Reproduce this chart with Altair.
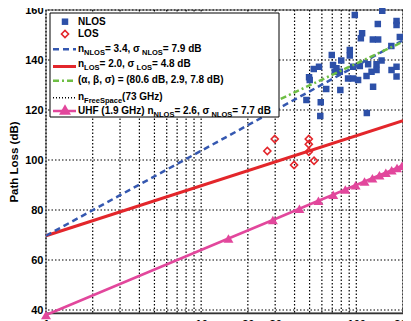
import altair as alt
import pandas as pd

# ---------------- data ----------------
nlos_d = [97.8, 147, 137.6, 181.7, 181.7, 109, 107, 127.8, 138.3, 190.8, 168.2,
          69.5, 90.8, 90.8, 80, 145.5, 135, 119.2, 105.4, 181.7, 168.7, 70.8,
          74.5, 72.6, 78.3, 95.3, 125.4, 116.4, 181.7, 88.5, 95.3, 102.7, 53.2,
          57.5, 49.6, 50.1, 64, 78.9, 128.3, 47.7, 59, 58.6, 116.9, 135]
nlos_pl = [158, 159.7, 154.4, 155.6, 154, 150.7, 148.7, 148.2, 148.2, 149.2, 145.6,
           142, 144, 141.8, 139.8, 139.8, 138.3, 138.3, 137.6, 137.3, 136, 138,
           136.7, 135.3, 135.3, 137.3, 135.3, 133.6, 133.4, 132.6, 132.6, 132, 136.4,
           137.3, 133.1, 132, 128.4, 128, 129.3, 124, 123.1, 117.6, 118.8, 136]

los_d = [26.7, 29.8, 39.7, 49.4, 49.4, 49.4, 53.4]
los_pl = [103.6, 108.4, 98, 108.4, 106.3, 103.3, 99.7]

fit_d = [1, 200]
nlos_fit = [69.7, 147.9]
los_fit = [69.7, 115.7]
fs_fit = [69.7, 115.7]

ci_d = [27, 200]
ci_pl = [122.1, 147.3]

uhf_d = [1, 15, 29, 43, 57, 71, 85, 99, 113, 127, 141, 155, 169, 183, 197]
uhf_pl = [38.0, 68.6, 76.0, 80.5, 83.7, 86.1, 88.2, 89.9, 91.4, 92.7, 93.9, 94.9,
          95.9, 96.8, 97.7]

x_grid = [1, 2, 3, 4, 5, 6, 7, 8, 9, 10, 20, 30, 40, 50, 60, 70, 80, 90, 100, 200]
x_labels = [1, 10, 20, 30, 100, 200]
y_ticks = [40, 60, 80, 100, 120, 140, 160]

# ---------------- styling ----------------
FONT = "Liberation Sans"
C_BLUE = "#2D50A8"
C_BLUE_L = "#3558B0"
C_RED = "#E3262B"
C_GREEN = "#6EBE44"
C_PINK = "#E2479C"

W_PX = 357
H_PX = 303

xscale = alt.Scale(type="log", domain=[1, 200], nice=False, zero=False)
yscale = alt.Scale(domain=[38.8, 160], nice=False, zero=False)

lab_list = "[" + ",".join(str(v) for v in x_labels) + "]"
xaxis = alt.Axis(values=x_grid, grid=False, ticks=False, title=None,
                 labelExpr=f"indexof({lab_list}, datum.value) >= 0 ? toString(datum.value) : ''",
                 labelOverlap=False, labelFlush=False, labelPadding=5,
                 domainColor="#333", domainWidth=1.5)
yaxis = alt.Axis(values=y_ticks, grid=False, ticks=False, title="Path Loss (dB)",
                 labelFlush=False, labelOverlap=False, labelPadding=3, domain=False,
                 titlePadding=5)


def X(f="d"):
    return alt.X(f"{f}:Q", scale=xscale, axis=xaxis)


def Y(f="pl"):
    return alt.Y(f"{f}:Q", scale=yscale, axis=yaxis)


df_nlos = pd.DataFrame({"d": nlos_d, "pl": nlos_pl})
df_los = pd.DataFrame({"d": los_d, "pl": los_pl})
df_nfit = pd.DataFrame({"d": fit_d, "pl": nlos_fit})
df_lfit = pd.DataFrame({"d": fit_d, "pl": los_fit})
df_fs = pd.DataFrame({"d": fit_d, "pl": fs_fit})
df_ci = pd.DataFrame({"d": ci_d, "pl": ci_pl})
df_uhf = pd.DataFrame({"d": uhf_d, "pl": uhf_pl})

# dotted grid drawn through the scales
grid_x = alt.Chart(pd.DataFrame({"d": x_grid})).mark_rule(
    color="#000", strokeDash=[1.5, 2], strokeWidth=1.2, opacity=1).encode(x=X())
grid_y = alt.Chart(pd.DataFrame({"pl": y_ticks})).mark_rule(
    color="#000", strokeDash=[1.5, 2], strokeWidth=1.2, opacity=1).encode(y=Y())

nlos_pts = alt.Chart(df_nlos).mark_point(shape="square", filled=True, size=42,
                                         color=C_BLUE, opacity=1).encode(x=X(), y=Y())
los_pts = alt.Chart(df_los).mark_point(shape="diamond", filled=False, size=50,
                                       color=C_RED, strokeWidth=1.6, opacity=1).encode(x=X(), y=Y())
fs_line = alt.Chart(df_fs).mark_line(color="black", strokeDash=[1, 2], strokeWidth=1.5).encode(x=X(), y=Y())
los_line = alt.Chart(df_lfit).mark_line(color=C_RED, strokeWidth=3).encode(x=X(), y=Y())
nlos_line = alt.Chart(df_nfit).mark_line(color=C_BLUE_L, strokeDash=[6, 4], strokeWidth=2.5).encode(x=X(), y=Y())
ci_line = alt.Chart(df_ci).mark_line(color=C_GREEN, strokeDash=[6, 3, 2, 3], strokeWidth=2.5).encode(x=X(), y=Y())
uhf_line = alt.Chart(df_uhf).mark_line(color=C_PINK, strokeWidth=2.5).encode(x=X(), y=Y())
uhf_pts = alt.Chart(df_uhf).mark_point(shape="triangle-up", filled=True, size=100,
                                       color=C_PINK, opacity=1).encode(x=X(), y=Y())

# ---------------- custom legend (with subscripts) ----------------
WID = {' ': 278, '(': 333, ')': 333, ',': 278, '.': 278, '=': 584,
       'α': 620, 'β': 610, 'σ': 620,
       'A': 722, 'B': 722, 'C': 722, 'D': 722, 'E': 667, 'F': 611, 'G': 778, 'H': 722,
       'L': 611, 'N': 722, 'O': 778, 'S': 667, 'U': 722, 'T': 611,
       'a': 556, 'c': 556, 'd': 611, 'e': 556, 'n': 611, 'p': 611, 'r': 389, 'z': 500,
       's': 556, 't': 333, 'h': 611, 'o': 611}
for ch in "0123456789":
    WID[ch] = 556


def tw(s, size):
    return sum(WID.get(c, 580) for c in s) / 1000.0 * size


MAIN = 10
SUB = 7.5
legend_rows = [
    [("NLOS", 0)],
    [("LOS", 0)],
    [("n", 0), ("NLOS", 1), (" = 3.4, σ", 0), ("NLOS", 1), (" = 7.9 dB", 0)],
    [("n", 0), ("LOS", 1), (" = 2.0, σ", 0), ("LOS", 1), (" = 4.8 dB", 0)],
    [("(α, β, σ) = (80.6 dB, 2.9, 7.8 dB)", 0)],
    [("n", 0), ("FreeSpace", 1), ("(73 GHz)", 0)],
    [("UHF (1.9 GHz) n", 0), ("NLOS", 1), (" = 2.6, σ", 0), ("NLOS", 1), (" = 7.7 dB", 0)],
]
row_text_y = [11.7, 24, 38.5, 54, 70, 86.5, 101]
row_sym_y = [11.7, 24, 39.3, 56.5, 70.7, 87.7, 101]
TX0 = 32

recs = []
for segs, ty in zip(legend_rows, row_text_y):
    x = TX0
    for s, sub in segs:
        size = SUB if sub else MAIN
        recs.append({"px": x, "py": ty + (4 if sub else 0), "t": s, "sz": size})
        x += tw(s, size)
df_leg = pd.DataFrame(recs)

legend_box = alt.Chart(pd.DataFrame({"k": [0]})).mark_rect(
    fill="white", stroke="black", strokeWidth=1).encode(
    x=alt.value(4), x2=alt.value(233), y=alt.value(3), y2=alt.value(107))

leg_text = alt.Chart(df_leg).mark_text(align="left", baseline="middle", font=FONT,
                                        fontWeight="bold", color="black").encode(
    x=alt.X("px:Q", scale=None, axis=None),
    y=alt.Y("py:Q", scale=None, axis=None),
    text="t:N",
    size=alt.Size("sz:Q", scale=None, legend=None))

one = pd.DataFrame({"k": [0]})
SX0, SX1, SXM = 7, 30, 19
leg_sq = alt.Chart(one).mark_point(shape="square", filled=True, size=42, color=C_BLUE, opacity=1).encode(
    x=alt.value(SXM), y=alt.value(row_sym_y[0]))
leg_di = alt.Chart(one).mark_point(shape="diamond", filled=False, size=50, color=C_RED,
                                   strokeWidth=1.6, opacity=1).encode(
    x=alt.value(SXM), y=alt.value(row_sym_y[1]))
leg_nl = alt.Chart(one).mark_rule(color=C_BLUE_L, strokeDash=[6, 4], strokeWidth=2.5).encode(
    x=alt.value(SX0), x2=alt.value(SX1), y=alt.value(row_sym_y[2]))
leg_ll = alt.Chart(one).mark_rule(color=C_RED, strokeWidth=3).encode(
    x=alt.value(SX0), x2=alt.value(SX1), y=alt.value(row_sym_y[3]))
leg_ci = alt.Chart(one).mark_rule(color=C_GREEN, strokeDash=[6, 3, 2, 3], strokeWidth=2.5).encode(
    x=alt.value(SX0), x2=alt.value(SX1), y=alt.value(row_sym_y[4]))
leg_fs = alt.Chart(one).mark_rule(color="black", strokeDash=[1, 2], strokeWidth=1.5).encode(
    x=alt.value(SX0), x2=alt.value(SX1), y=alt.value(row_sym_y[5]))
leg_uh = alt.Chart(one).mark_rule(color=C_PINK, strokeWidth=2.5).encode(
    x=alt.value(SX0), x2=alt.value(SX1), y=alt.value(row_sym_y[6]))
leg_ut = alt.Chart(one).mark_point(shape="triangle-up", filled=True, size=144, color=C_PINK, opacity=1).encode(
    x=alt.value(SXM), y=alt.value(row_sym_y[6] - 1.5))

chart = alt.layer(
    grid_x, grid_y,
    nlos_pts, los_pts, fs_line, los_line, nlos_line, ci_line, uhf_line, uhf_pts,
    legend_box, leg_text, leg_sq, leg_di, leg_nl, leg_ll, leg_ci, leg_fs, leg_uh, leg_ut
).properties(
    width=W_PX, height=H_PX,
    padding={"left": 38, "top": 2, "right": 0, "bottom": 10},
    autosize=alt.AutoSizeParams(type="none"),
).configure_axis(
    labelFont=FONT, labelFontWeight="bold", labelFontSize=11, labelColor="black",
    titleFont=FONT, titleFontWeight="bold", titleFontSize=11.5, titleColor="black",
).configure_view(stroke="#888", strokeWidth=1.5)

chart.save("out.html", embed_options={"renderer": "svg", "actions": False})
